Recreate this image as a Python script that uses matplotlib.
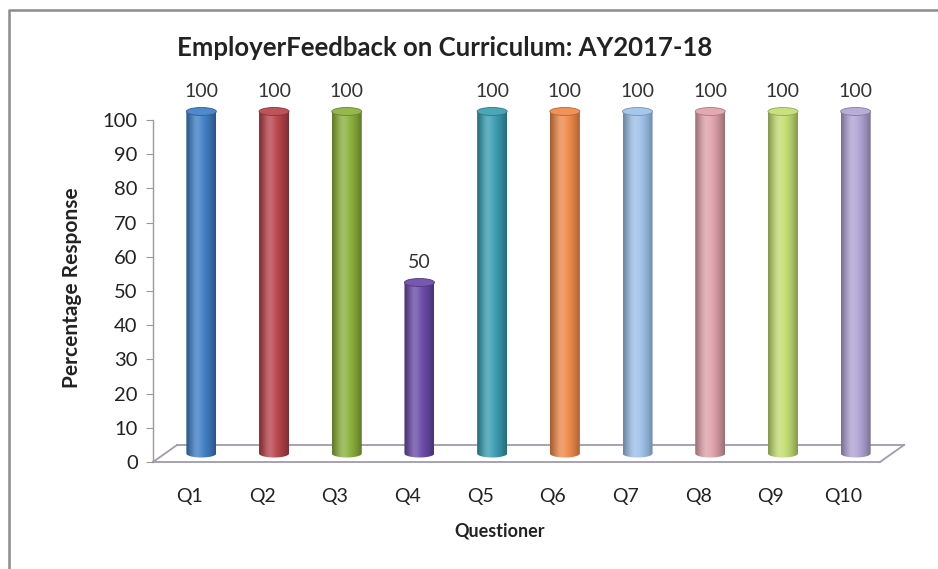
import numpy as np
import matplotlib
matplotlib.use("Agg")
import matplotlib.pyplot as plt
from matplotlib.patches import Ellipse
from matplotlib.lines import Line2D
from matplotlib.path import Path
from matplotlib.transforms import ScaledTranslation
from matplotlib.colors import to_rgb

plt.rcParams['font.family'] = ['Lato', 'DejaVu Sans']

# ---- data ----
questions = ["Q1", "Q2", "Q3", "Q4", "Q5", "Q6", "Q7", "Q8", "Q9", "Q10"]
responses = [100, 100, 100, 50, 100, 100, 100, 100, 100, 100]
bar_colors = ["#3F7FC6", "#B9444C", "#8CB23C", "#6A4BA8", "#3A9EB2",
              "#F0894A", "#9EC2EA", "#E0A2AA", "#C4DE72", "#B2A5D6"]
y_ticks = [0, 10, 20, 30, 40, 50, 60, 70, 80, 90, 100]

W, H, DPI = 938, 569, 100
fig = plt.figure(figsize=(W / DPI, H / DPI), dpi=DPI)
fig.patch.set_facecolor("white")

# chart-area border (top and left edges)
border = "#8C8C8C"
fig.lines.append(Line2D([9 / W, 9 / W, 1.0], [0.0, 1 - 10 / H, 1 - 10 / H],
                        transform=fig.transFigure, color=border, lw=1.8))

# plot area: front floor edge from x=153 to 880 px, y=0 at 462 px, y=100 at 120 px
px_per_unit = (462 - 120) / 100.0
ymax = 108
left, right = 153, 880
bottom_px = 462
top_px = 462 - ymax * px_per_unit
ax = fig.add_axes([left / W, (H - bottom_px) / H, (right - left) / W, (bottom_px - top_px) / H])
ax.set_facecolor("none")
xlo, xhi = -0.5, 9.5
ax.set_xlim(xlo, xhi)
ax.set_ylim(0, ymax)
ax.set_autoscale_on(False)

# depth of the 3-D floor (px)
depth_dx, depth_dy = 24, 17
back = ScaledTranslation(depth_dx / DPI, depth_dy / DPI, fig.dpi_scale_trans)
mid = ScaledTranslation(depth_dx / 2 / DPI, depth_dy / 2 / DPI, fig.dpi_scale_trans)
trans_mid = ax.transData + mid
trans_back = ax.transData + back

floor_col = "#A39AAE"
ax.plot([xlo, xhi], [0, 0], color=floor_col, lw=1.3, clip_on=False, zorder=1)
ax.plot([xlo, xhi], [0, 0], color=floor_col, lw=1.3, clip_on=False, zorder=1,
        transform=trans_back)
inv = ax.transData.inverted()
for xe in (xlo, xhi):
    q0 = np.array([xe, 0.0])
    q1 = inv.transform(trans_back.transform((xe, 0)))
    ax.plot([q0[0], q1[0]], [q0[1], q1[1]], color=floor_col, lw=1.3,
            clip_on=False, zorder=1)

# cylinders
bw = 30 / ((right - left) / (xhi - xlo))   # bar width in data units
eh = 8 / px_per_unit                       # ellipse height in data units
u = np.linspace(-1, 1, 120)
shade = 0.62 + 0.38 * np.cos(u * np.pi / 2.2)
hl = 0.22 * np.exp(-((u + 0.3) / 0.38) ** 2)

for i, (v, c) in enumerate(zip(responses, bar_colors)):
    rgb = np.array(to_rgb(c))
    grad = rgb[None, :] * shade[:, None]
    grad = grad + (1 - grad) * hl[:, None]
    grad = np.clip(grad, 0, 1)[None, :, :]
    x0, x1 = i - bw / 2, i + bw / 2
    t = np.linspace(np.pi, 2 * np.pi, 40)
    verts = [(x0, v), (x0, 0)]
    verts += [(i + bw / 2 * np.cos(tt), eh / 2 * np.sin(tt)) for tt in t]
    verts += [(x1, v), (x0, v)]
    codes = [Path.MOVETO] + [Path.LINETO] * (len(verts) - 2) + [Path.CLOSEPOLY]
    body = Path(verts, codes)
    im = ax.imshow(grad, extent=(x0, x1, -eh, v), transform=trans_mid,
                   aspect="auto", interpolation="bilinear", zorder=3)
    im.set_clip_path(body, trans_mid)
    im.set_clip_box(fig.bbox)
    cap_col = rgb * 0.92 + 0.08
    ax.add_patch(Ellipse((i, v), bw, eh, transform=trans_mid,
                         facecolor=cap_col, edgecolor=rgb * 0.75, lw=0.6,
                         zorder=4, clip_on=False))
    ax.annotate(f"{v}", xy=(i, v), xycoords=trans_mid, xytext=(0, 8),
                textcoords="offset points", ha="center", va="bottom",
                fontsize=14, color="#333333", annotation_clip=False)

ax.set_xlim(xlo, xhi)
ax.set_ylim(0, ymax)

for s in ("top", "right", "bottom"):
    ax.spines[s].set_visible(False)
ax.spines["left"].set_bounds(0, 100)
ax.spines["left"].set_color("#9A9A9A")
ax.spines["left"].set_linewidth(1.0)
ax.set_yticks(y_ticks)
ax.tick_params(axis="y", length=5, color="#9A9A9A", pad=6, labelsize=14.5,
               labelcolor="#222222")
ax.set_xticks(range(len(questions)))
ax.set_xticklabels(questions)
ax.tick_params(axis="x", length=0, pad=19, labelsize=14, labelcolor="#222222")

fig.text(500 / W, 1 - 531 / H, "Questioner", ha="center", va="center",
         fontsize=13, fontweight="bold", color="#222222")
fig.text(72 / W, 1 - 288 / H, "Percentage Response", ha="center", va="center",
         rotation=90, fontsize=15, fontweight="bold", color="#222222")

fig.text(445 / W, 1 - 48 / H, "EmployerFeedback on Curriculum: AY2017-18",
         ha="center", va="center", fontsize=18.5, fontweight="bold",
         color="#222222")

fig.savefig("out.png", dpi=DPI, facecolor="white")
